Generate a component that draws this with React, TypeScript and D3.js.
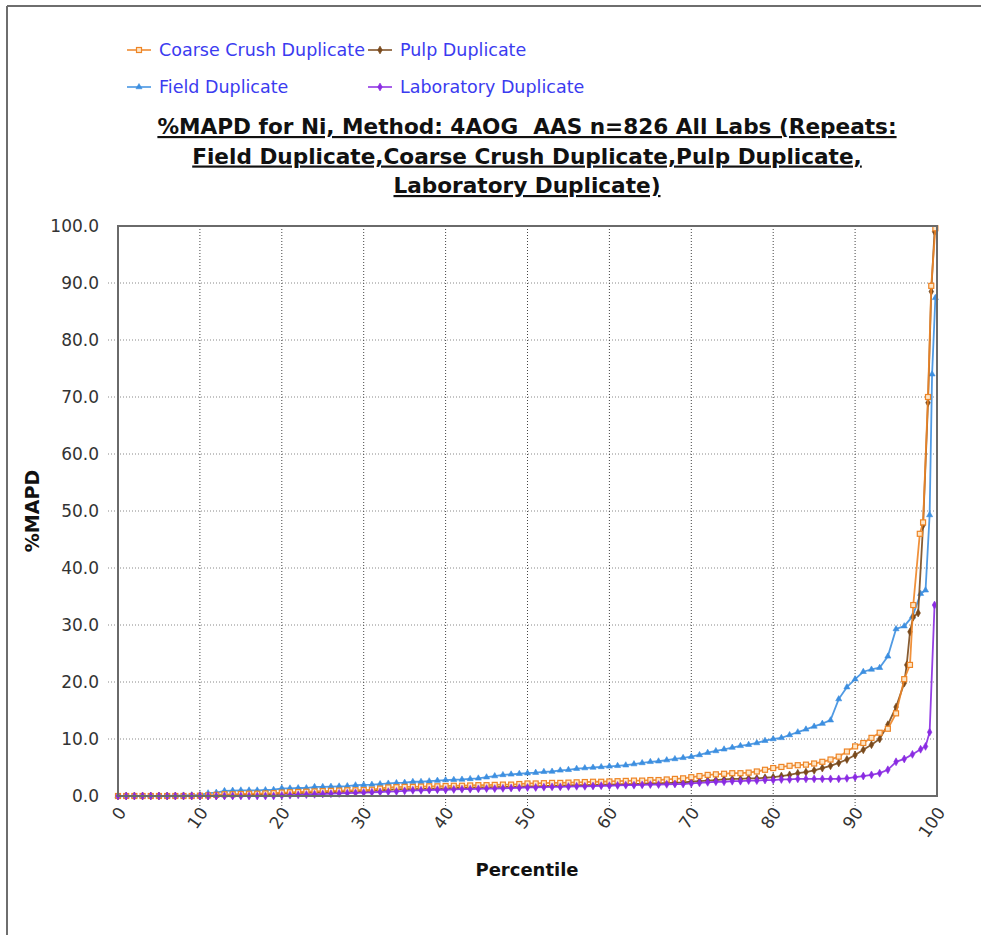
import React from 'react';
import * as d3 from 'd3';

// percentile / %MAPD pairs
const fieldDup: [number, number][] = [
  [0,0],[1,0],[2,0],[3,0],[4,0],[5,0],[6,0],[7,0.05],[8,0.1],[9,0.15],[10,0.2],
  [11,0.5],[12,0.6],[13,0.9],[14,0.95],[15,1.0],[16,1.0],[17,1.0],[18,1.05],[19,1.1],[20,1.35],
  [21,1.35],[22,1.4],[23,1.4],[24,1.6],[25,1.6],[26,1.65],[27,1.7],[28,1.75],[29,1.9],[30,1.95],
  [31,2.0],[32,2.1],[33,2.2],[34,2.3],[35,2.35],[36,2.5],[37,2.5],[38,2.6],[39,2.7],[40,2.8],
  [41,2.85],[42,2.9],[43,3.0],[44,3.1],[45,3.3],[46,3.5],[47,3.7],[48,3.8],[49,3.9],[50,4.0],
  [51,4.1],[52,4.25],[53,4.3],[54,4.5],[55,4.6],[56,4.8],[57,4.9],[58,5.0],[59,5.1],[60,5.2],
  [61,5.3],[62,5.4],[63,5.6],[64,5.8],[65,6.0],[66,6.1],[67,6.3],[68,6.5],[69,6.7],[70,6.9],
  [71,7.2],[72,7.6],[73,7.9],[74,8.2],[75,8.5],[76,8.8],[77,9.0],[78,9.3],[79,9.7],[80,10.0],
  [81,10.2],[82,10.7],[83,11.2],[84,11.7],[85,12.2],[86,12.7],[87,13.3],[88,17.0],[89,19.1],[90,20.5],
  [91,21.8],[92,22.2],[93,22.5],[94,24.5],[95,29.3],[96,29.8],[97,31.5],[98,35.5],[98.6,36.1],
  [99.1,49.3],[99.4,74.0],[99.8,87.4],
];

const coarseDup: [number, number][] = [
  [0,0],[1,0],[2,0],[3,0],[4,0],[5,0],[6,0],[7,0],[8,0],[9,0],[10,0.05],
  [11,0.1],[12,0.2],[13,0.3],[14,0.3],[15,0.35],[16,0.4],[17,0.4],[18,0.45],[19,0.5],[20,0.6],
  [21,0.65],[22,0.7],[23,0.75],[24,0.8],[25,0.85],[26,0.9],[27,0.95],[28,1.0],[29,1.0],[30,1.05],
  [31,1.1],[32,1.3],[33,1.5],[34,1.55],[35,1.6],[36,1.6],[37,1.65],[38,1.7],[39,1.7],[40,1.75],
  [41,1.8],[42,1.8],[43,1.85],[44,1.9],[45,1.9],[46,1.95],[47,2.0],[48,2.0],[49,2.1],[50,2.2],
  [51,2.2],[52,2.25],[53,2.3],[54,2.3],[55,2.35],[56,2.4],[57,2.45],[58,2.5],[59,2.5],[60,2.55],
  [61,2.6],[62,2.65],[63,2.7],[64,2.7],[65,2.8],[66,2.8],[67,2.9],[68,3.0],[69,3.1],[70,3.3],
  [71,3.5],[72,3.7],[73,3.8],[74,3.9],[75,4.0],[76,4.0],[77,4.1],[78,4.3],[79,4.6],[80,4.9],
  [81,5.1],[82,5.3],[83,5.4],[84,5.5],[85,5.7],[86,6.0],[87,6.4],[88,6.9],[89,7.8],[90,8.7],
  [91,9.3],[92,10.2],[93,11.1],[94,11.8],[95,14.5],[96,20.5],[96.7,23.0],[97.1,33.5],[97.9,46.0],
  [98.3,48.0],[98.9,70.0],[99.3,89.5],[99.8,99.6],
];

const pulpDup: [number, number][] = [
  [0,0],[1,0],[2,0],[3,0],[4,0],[5,0],[6,0],[7,0],[8,0],[9,0],[10,0],
  [11,0],[12,0],[13,0.1],[14,0.15],[15,0.2],[16,0.2],[17,0.25],[18,0.3],[19,0.3],[20,0.4],
  [21,0.45],[22,0.5],[23,0.55],[24,0.6],[25,0.65],[26,0.7],[27,0.7],[28,0.75],[29,0.8],[30,0.85],
  [31,0.9],[32,1.0],[33,1.1],[34,1.15],[35,1.2],[36,1.2],[37,1.25],[38,1.3],[39,1.3],[40,1.35],
  [41,1.4],[42,1.4],[43,1.45],[44,1.5],[45,1.5],[46,1.55],[47,1.6],[48,1.6],[49,1.65],[50,1.7],
  [51,1.7],[52,1.75],[53,1.8],[54,1.8],[55,1.85],[56,1.9],[57,1.9],[58,1.95],[59,2.0],[60,2.0],
  [61,2.05],[62,2.1],[63,2.1],[64,2.15],[65,2.2],[66,2.2],[67,2.3],[68,2.3],[69,2.4],[70,2.5],
  [71,2.6],[72,2.7],[73,2.8],[74,2.9],[75,3.0],[76,3.0],[77,3.1],[78,3.1],[79,3.2],[80,3.3],
  [81,3.5],[82,3.7],[83,4.0],[84,4.2],[85,4.5],[86,4.9],[87,5.3],[88,5.8],[89,6.4],[90,7.2],
  [91,8.1],[92,9.0],[93,10.0],[94,12.5],[95,15.6],[96,19.8],[96.3,23.0],[96.7,28.8],[97.1,31.4],
  [97.7,32.1],[98.3,47.5],[98.9,69.0],[99.3,88.5],[99.7,99.0],
];

const labDup: [number, number][] = [
  [0,0],[1,0],[2,0],[3,0],[4,0],[5,0],[6,0],[7,0],[8,0],[9,0],[10,0],
  [11,0],[12,0],[13,0],[14,0],[15,0],[16,0],[17,0],[18,0],[19,0],[20,0.1],
  [21,0.15],[22,0.2],[23,0.25],[24,0.3],[25,0.35],[26,0.4],[27,0.45],[28,0.5],[29,0.55],[30,0.6],
  [31,0.65],[32,0.7],[33,0.75],[34,0.8],[35,0.9],[36,1.0],[37,1.0],[38,1.05],[39,1.1],[40,1.1],
  [41,1.15],[42,1.2],[43,1.2],[44,1.25],[45,1.3],[46,1.3],[47,1.35],[48,1.4],[49,1.45],[50,1.5],
  [51,1.5],[52,1.55],[53,1.6],[54,1.6],[55,1.65],[56,1.7],[57,1.7],[58,1.75],[59,1.8],[60,1.8],
  [61,1.85],[62,1.9],[63,1.9],[64,1.95],[65,2.0],[66,2.0],[67,2.05],[68,2.1],[69,2.1],[70,2.2],
  [71,2.3],[72,2.4],[73,2.5],[74,2.5],[75,2.6],[76,2.6],[77,2.7],[78,2.7],[79,2.8],[80,2.8],
  [81,2.9],[82,2.9],[83,3.0],[84,3.0],[85,3.0],[86,3.0],[87,3.0],[88,3.0],[89,3.1],[90,3.3],
  [91,3.5],[92,3.7],[93,4.0],[94,4.6],[95,6.0],[96,6.5],[97,7.3],[98,8.2],[98.6,8.7],
  [99.1,11.2],[99.7,33.5],
];

const yTicks = [0, 10, 20, 30, 40, 50, 60, 70, 80, 90, 100];
const xTicks = [0, 10, 20, 30, 40, 50, 60, 70, 80, 90, 100];

const titleLines = [
  '%MAPD for Ni, Method: 4AOG  AAS n=826 All Labs (Repeats:',
  'Field Duplicate,Coarse Crush Duplicate,Pulp Duplicate,',
  'Laboratory Duplicate)',
];

const series = [
  { name: 'Field Duplicate', data: fieldDup, color: '#3d8fe0', marker: 'triangle' },
  { name: 'Pulp Duplicate', data: pulpDup, color: '#7a4a1c', marker: 'diamond' },
  { name: 'Coarse Crush Duplicate', data: coarseDup, color: '#ee8526', marker: 'square' },
  { name: 'Laboratory Duplicate', data: labDup, color: '#8a2be2', marker: 'diamond' },
];

const legendItems = [
  { name: 'Coarse Crush Duplicate', color: '#ee8526', marker: 'square', col: 0, row: 0 },
  { name: 'Pulp Duplicate', color: '#7a4a1c', marker: 'diamond', col: 1, row: 0 },
  { name: 'Field Duplicate', color: '#3d8fe0', marker: 'triangle', col: 0, row: 1 },
  { name: 'Laboratory Duplicate', color: '#8a2be2', marker: 'diamond', col: 1, row: 1 },
];

const W = 981;
const H = 935;
const margin = { left: 118, right: 44, top: 226, bottom: 139 };
const font = 'Tahoma, "DejaVu Sans", Verdana, sans-serif';

function Marker({ type, x, y, color }: { type: string; x: number; y: number; color: string }) {
  if (type === 'square') {
    return <rect x={x - 2.5} y={y - 2.5} width={5} height={5} fill="#fde6c8" stroke={color} strokeWidth={1.2} />;
  }
  const sym = type === 'triangle' ? d3.symbolTriangle : d3.symbolDiamond;
  const path = d3.symbol().type(sym).size(type === 'triangle' ? 16 : 18)();
  return <path d={path || ''} transform={`translate(${x},${y})`} fill={color} stroke={color} strokeWidth={0.6} />;
}

export default function App() {
  const x = d3.scaleLinear().domain([0, 100]).range([margin.left, W - margin.right]);
  const y = d3.scaleLinear().domain([0, 100]).range([H - margin.bottom, margin.top]);
  const line = d3.line<[number, number]>().x(d => x(d[0])).y(d => y(d[1]));
  const x0 = x(0), x1 = x(100), y0 = y(0), y1 = y(100);

  return (
    <svg width={W} height={H} style={{ position: 'absolute', left: 0, top: 0, background: '#fff' }} fontFamily={font}>
      {/* outer frame */}
      <line x1={7} y1={6} x2={W} y2={6} stroke="#6e6e6e" strokeWidth={2} />
      <line x1={7} y1={6} x2={7} y2={H} stroke="#6e6e6e" strokeWidth={2} />

      {/* legend */}
      {legendItems.map(l => {
        const lx = 127 + l.col * 241;
        const ly = 50 + l.row * 37;
        return (
          <g key={l.name}>
            <line x1={lx} x2={lx + 24} y1={ly} y2={ly} stroke={l.color} strokeWidth={1.5} />
            <Marker type={l.marker} x={lx + 12} y={ly} color={l.color} />
            <text x={lx + 32} y={ly} dy="0.35em" fontSize={17.5} fill="#3b3bf0">{l.name}</text>
          </g>
        );
      })}

      {/* title */}
      {titleLines.map((t, i) => (
        <text key={i} x={527} y={134 + i * 29.5} textAnchor="middle" fontSize={21.6} fontWeight="bold" fill="#111" textDecoration="underline" style={{ whiteSpace: 'pre' }}>{t}</text>
      ))}

      {/* grid */}
      {yTicks.filter(t => t > 0 && t < 100).map(t => (
        <line key={'gy' + t} x1={x0 - 10} x2={x1} y1={y(t)} y2={y(t)} stroke="#888" strokeDasharray="1,2" />
      ))}
      {xTicks.filter(t => t > 0 && t < 100).map(t => (
        <line key={'gx' + t} x1={x(t)} x2={x(t)} y1={y1} y2={y0 + 10} stroke="#444" strokeDasharray="1,2" />
      ))}

      {/* series */}
      {series.map(s => (
        <g key={s.name}>
          <path d={line(s.data) || ''} fill="none" stroke={s.color} strokeWidth={1.8} strokeOpacity={0.9} />
          {s.data.map((d, i) => (
            <Marker key={i} type={s.marker} x={x(d[0])} y={y(d[1])} color={s.color} />
          ))}
        </g>
      ))}

      {/* plot frame */}
      <rect x={x0} y={y1} width={x1 - x0} height={y0 - y1} fill="none" stroke="#6a6a6a" strokeWidth={2} />

      {/* y ticks */}
      {yTicks.map(t => (
        <text key={'yt' + t} x={99} y={y(t)} dy="0.35em" textAnchor="end" fontSize={17} fill="#333">{t.toFixed(1)}</text>
      ))}
      {/* x ticks */}
      {xTicks.map(t => (
        <text key={'xt' + t} transform={`translate(${x(t) + 4},${y0 + 13}) rotate(-55)`} textAnchor="end" dy="0.35em" fontSize={17} fill="#333">{t}</text>
      ))}

      <text transform={`translate(39,${(y0 + y1) / 2}) rotate(-90)`} textAnchor="middle" fontSize={19} fontWeight="bold" fill="#111">%MAPD</text>
      <text x={527} y={876} textAnchor="middle" fontSize={18} fontWeight="bold" fill="#111">Percentile</text>
    </svg>
  );
}
